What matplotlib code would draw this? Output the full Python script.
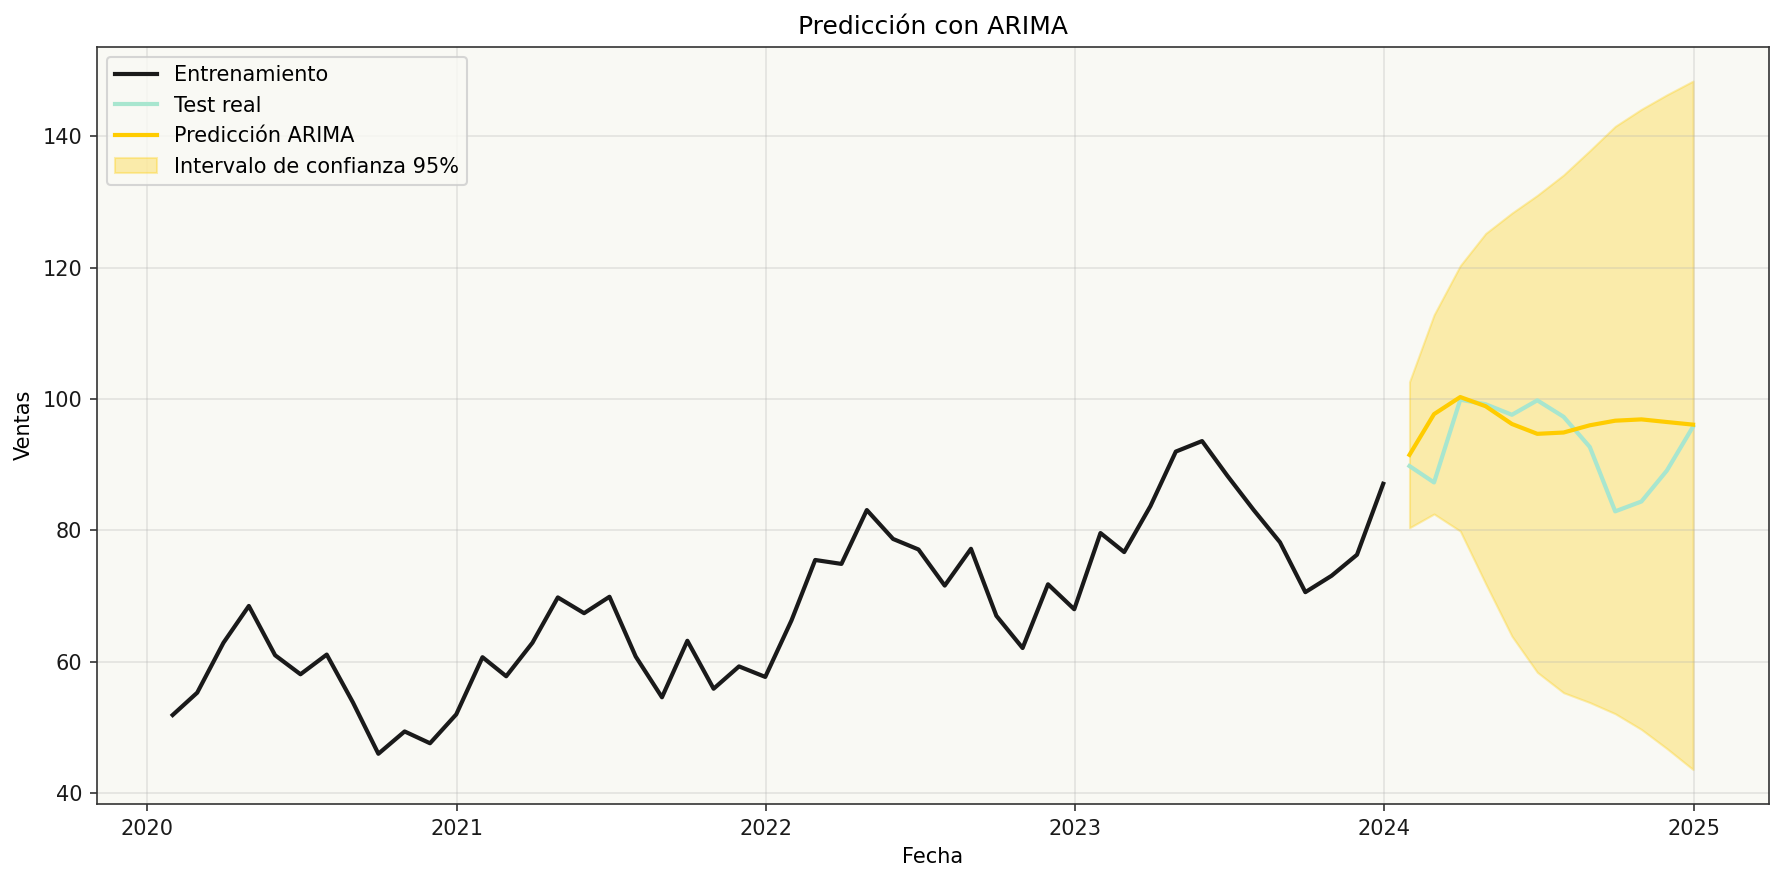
import matplotlib
matplotlib.use('Agg')
import matplotlib.pyplot as plt
import matplotlib.dates as mdates
import pandas as pd
import numpy as np

# ventas mensuales (fin de mes)
train_dates = pd.date_range('2020-01-31', periods=48, freq='ME')
train_vals = [51.9, 55.3, 62.9, 68.5, 61.0, 58.1, 61.1, 53.8, 46.0, 49.4, 47.6, 52.0,
              60.7, 57.8, 62.9, 69.8, 67.4, 69.9, 60.8, 54.6, 63.2, 55.9, 59.3, 57.7,
              66.3, 75.5, 74.9, 83.1, 78.7, 77.1, 71.6, 77.2, 67.0, 62.1, 71.8, 68.0,
              79.6, 76.7, 83.7, 92.0, 93.6, 88.3, 83.1, 78.2, 70.6, 73.1, 76.3, 87.1]

test_dates = pd.date_range('2024-01-31', periods=12, freq='ME')
test_vals = [89.8, 87.3, 99.9, 99.2, 97.6, 99.8, 97.3, 92.7, 82.9, 84.4, 89.1, 95.8]
pred_vals = [91.5, 97.7, 100.3, 98.9, 96.2, 94.7, 94.9, 96.0, 96.7, 96.9, 96.5, 96.1]
ci_low = [80.4, 82.5, 79.9, 71.9, 63.9, 58.4, 55.3, 53.8, 52.1, 49.7, 46.8, 43.6]
ci_high = [102.6, 112.8, 120.3, 125.2, 128.3, 131.0, 134.1, 137.8, 141.5, 144.1, 146.3, 148.4]

fig, ax = plt.subplots(figsize=(1783/150, 883/150), dpi=150)
fig.subplots_adjust(left=0.0542, right=0.9922, top=0.9472, bottom=0.0895)
ax.set_facecolor('#f9f9f4')

ax.plot(train_dates, train_vals, color='#1a1a1a', lw=2, label='Entrenamiento')
ax.plot(test_dates, test_vals, color='#a8e6cf', lw=2, label='Test real')
ax.plot(test_dates, pred_vals, color='#ffcc00', lw=2, label='Predicción ARIMA')
ax.fill_between(test_dates, ci_low, ci_high, color='#ffcc00', alpha=0.3,
                label='Intervalo de confianza 95%')

ax.xaxis.set_major_locator(mdates.YearLocator())
ax.xaxis.set_major_formatter(mdates.DateFormatter('%Y'))
ax.set_yticks([40, 60, 80, 100, 120, 140])

ax.set_title('Predicción con ARIMA', fontsize=12)
ax.set_xlabel('Fecha')
ax.set_ylabel('Ventas')
ax.grid(True, color='#b0b0b0', alpha=0.3)
for s in ax.spines.values():
    s.set_color('#333333')
ax.tick_params(colors='#333333', labelcolor='#1a1a1a')

leg = ax.legend(loc='upper left', fontsize=10, facecolor='#f9f9f4', edgecolor='#cccccc')

fig.savefig('out.png', dpi=150)
